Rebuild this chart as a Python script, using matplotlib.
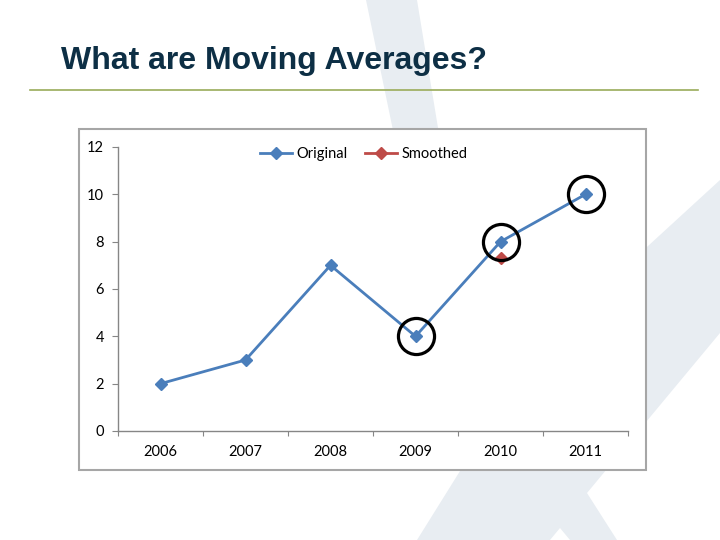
import numpy as np
import matplotlib.pyplot as plt
from matplotlib.patches import Polygon, Rectangle

# chart data
years = ['2006', '2007', '2008', '2009', '2010', '2011']
original = [2, 3, 7, 4, 8, 10]
smoothed = [np.nan, np.nan, np.nan, np.nan, 7.33, np.nan]
circled = [3, 4, 5]  # indices of highlighted points

title = 'What are Moving Averages?'
blue = '#4a7ebb'
red = '#be4b48'
bg_shape = '#e8edf2'

fig = plt.figure(figsize=(7.2, 5.4), dpi=100)

# slide background in pixel coords
bg = fig.add_axes([0, 0, 1, 1], zorder=0)
bg.set_xlim(0, 720)
bg.set_ylim(540, 0)
bg.axis('off')

# faint logo stripes
bg.add_patch(Polygon([(366, 0), (417, 0), (440, 140), (395, 140)],
                     closed=True, facecolor=bg_shape, edgecolor='none'))
bg.add_patch(Polygon([(720, 180), (600, 290), (470, 455), (417, 540), (550, 540),
                      (560, 528), (570, 540), (617, 540), (587, 493), (720, 333)],
                     closed=True, facecolor=bg_shape, edgecolor='none'))

bg.text(61, 69, title, fontsize=23, color='#0d2f45', family='Liberation Sans',
        weight='bold', va='baseline', ha='left')
bg.plot([30, 698], [90, 90], color='#9aab5a', lw=1.2)

# chart frame
bg.add_patch(Rectangle((79, 129), 567, 341, facecolor='white', edgecolor='#a6a6a6', lw=1.5))

ax = fig.add_axes([118 / 720, 1 - 431 / 540, 510 / 720, 284 / 540], zorder=1)
ax.patch.set_visible(False)

x = np.arange(len(years))
ax.plot(x, original, color=blue, lw=2, marker='D', ms=6, mec=blue, label='Original')
ax.plot(x, smoothed, color=red, lw=2, marker='D', ms=6, mec=red, label='Smoothed')
ax.plot(x[circled], np.array(original)[circled], ls='none', marker='o', ms=26,
        mfc='none', mec='black', mew=2.3, clip_on=False)

ax.set_xlim(-0.5, len(years) - 0.5)
ax.set_ylim(0, 12)
ax.set_yticks(np.arange(0, 13, 2))
ax.set_xticks(np.arange(-0.5, len(years), 1))
ax.set_xticklabels([])
ax.set_xticks(x, minor=True)
ax.set_xticklabels(years, minor=True)

for s in ['top', 'right']:
    ax.spines[s].set_visible(False)
for s in ['left', 'bottom']:
    ax.spines[s].set_color('#868686')
    ax.spines[s].set_linewidth(1)

ax.tick_params(axis='y', direction='out', length=4, color='#868686', pad=6,
               labelsize=10.5, labelcolor='black')
ax.tick_params(axis='x', which='major', direction='out', length=3.5, color='#868686')
ax.tick_params(axis='x', which='minor', length=0, pad=10, labelsize=10.5)
for lab in ax.get_xticklabels(minor=True) + ax.get_yticklabels():
    lab.set_family('Lato')

leg = fig.legend(handles=ax.get_lines()[:2], loc='center', ncol=2,
                 bbox_to_anchor=(364 / 720, 1 - 154 / 540), frameon=False,
                 prop={'family': 'Lato', 'size': 10.5}, handlelength=2.2,
                 handletextpad=0.3, columnspacing=1.2)

fig.savefig('out.png', dpi=100)
